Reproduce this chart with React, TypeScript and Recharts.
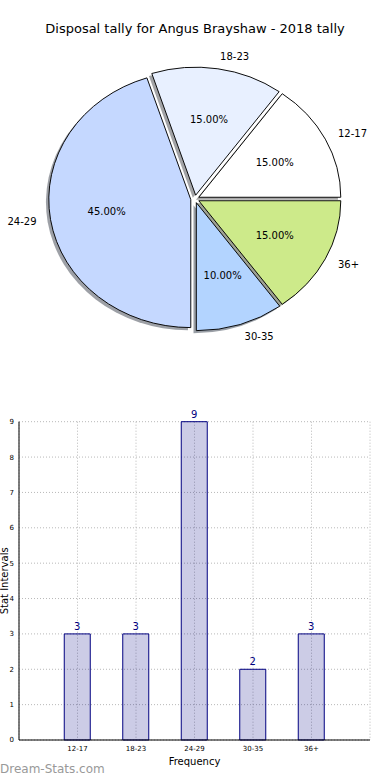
import React from 'react';
import { PieChart, Pie, Cell, BarChart, Bar, XAxis, YAxis, CartesianGrid, LabelList, Label } from 'recharts';

const categories = ['12-17', '18-23', '24-29', '30-35', '36+'];
const counts = [3, 3, 9, 2, 3];
const sliceColors = ['#ffffff', '#e8f0ff', '#c5d8ff', '#b3d4ff', '#cdea8a'];
const explode = [0.03, 0.03, 0.03, 0.03, 0.03];
const yTicks = [0, 1, 2, 3, 4, 5, 6, 7, 8, 9];
const xTicks = [1, 2, 3, 4, 5];

const CX = 195;
const CY = 199;
const R = 142;
const SY = 128 / 142;
const FONT = 'DejaVu Sans, sans-serif';

const pieData = categories.map((name, i) => ({ name, value: counts[i] }));
const barData = categories.map((name, i) => ({ pos: i + 1, name, value: counts[i] }));

const total = counts.reduce((a, b) => a + b, 0);
const midAngles = counts.map((v, i) => {
  const before = counts.slice(0, i).reduce((a, b) => a + b, 0);
  return (360 * (before + v / 2)) / total;
});

function shadowColor(hex: string) {
  const r = parseInt(hex.slice(1, 3), 16);
  const g = parseInt(hex.slice(3, 5), 16);
  const b = parseInt(hex.slice(5, 7), 16);
  return `rgb(${Math.round(r * 0.3)},${Math.round(g * 0.3)},${Math.round(b * 0.3)})`;
}

const RAD = Math.PI / 180;

const renderLabels = (p: any) => {
  const { midAngle, index, percent } = p;
  const e = explode[index];
  const c = Math.cos(midAngle * RAD);
  const s = Math.sin(midAngle * RAD);
  const lx = CX + (e + 1.1) * R * c;
  const ly = CY - (e + 1.1) * R * s;
  const px = CX + (e + 0.6) * R * c;
  const py = CY - (e + 0.6) * R * s;
  const tf = (x: number, y: number) => `translate(${x},${y}) scale(1,${1 / SY}) translate(${-x},${-y})`;
  return (
    <g key={`lbl-${index}`}>
      <text x={lx} y={ly} transform={tf(lx, ly)} textAnchor={c > 0 ? 'start' : 'end'} dominantBaseline="central" fontSize={10} fontFamily={FONT} fill="#000">
        {categories[index]}
      </text>
      <text x={px} y={py} transform={tf(px, py)} textAnchor="middle" dominantBaseline="central" fontSize={10} fontFamily={FONT} fill="#000">
        {(percent * 100).toFixed(2)}%
      </text>
    </g>
  );
};

export default function App() {
  return (
    <div style={{ position: 'absolute', left: 0, top: 0, width: 390, height: 780, background: '#fff', fontFamily: FONT }}>
      <div style={{ position: 'absolute', left: 0, top: 21, width: 390, textAlign: 'center', fontSize: 13, fontFamily: FONT, color: '#000' }}>
        Disposal tally for Angus Brayshaw - 2018 tally
      </div>
      <div style={{ position: 'absolute', left: 0, top: 0, width: 390, height: 390, transform: `scaleY(${SY})`, transformOrigin: `${CX}px ${CY}px` }}>
        <PieChart width={390} height={390} margin={{ top: 0, right: 0, bottom: 0, left: 0 }}>
          {categories.map((_, i) => (
            <Pie
              key={`sh-${i}`}
              data={pieData}
              dataKey="value"
              cx={CX + explode[i] * R * Math.cos(midAngles[i] * RAD) - 0.02 * R}
              cy={CY - explode[i] * R * Math.sin(midAngles[i] * RAD) + 0.02 * R}
              outerRadius={R}
              startAngle={0}
              endAngle={360}
              isAnimationActive={false}
              stroke="none"
            >
              {pieData.map((d, j) => (
                <Cell key={d.name} fill={j === i ? shadowColor(sliceColors[i]) : 'none'} fillOpacity={0.5} stroke="none" />
              ))}
            </Pie>
          ))}
          {categories.map((_, i) => (
            <Pie
              key={`sl-${i}`}
              data={pieData}
              dataKey="value"
              cx={CX + explode[i] * R * Math.cos(midAngles[i] * RAD)}
              cy={CY - explode[i] * R * Math.sin(midAngles[i] * RAD)}
              outerRadius={R}
              startAngle={0}
              endAngle={360}
              isAnimationActive={false}
            >
              {pieData.map((d, j) => (
                <Cell key={d.name} fill={j === i ? sliceColors[i] : 'none'} stroke={j === i ? '#000' : 'none'} strokeWidth={1} />
              ))}
            </Pie>
          ))}
          <Pie
            data={pieData}
            dataKey="value"
            cx={CX}
            cy={CY}
            outerRadius={R}
            startAngle={0}
            endAngle={360}
            isAnimationActive={false}
            fill="none"
            stroke="none"
            labelLine={false}
            label={renderLabels}
          >
            {pieData.map((d) => (
              <Cell key={d.name} fill="none" stroke="none" />
            ))}
          </Pie>
        </PieChart>
      </div>
      <div style={{ position: 'absolute', left: 0, top: 400 }}>
        <BarChart width={390} height={380} data={barData} margin={{ top: 21.7, right: 20, bottom: 0, left: 0 }}>
          <CartesianGrid stroke="#b8b8b8" strokeDasharray="1 2" />
          <XAxis
            dataKey="pos"
            type="number"
            domain={[0, 6]}
            ticks={xTicks}
            tickFormatter={(v: number) => categories[v - 1]}
            height={40}
            tickLine={false}
            tickSize={4}
            tick={{ fontSize: 7, fill: '#000', fontFamily: FONT }}
            axisLine={{ stroke: '#000' }}
            interval={0}
          >
            <Label value="Frequency" position="insideBottom" offset={15} fontSize={10} fill="#000" fontFamily={FONT} />
          </XAxis>
          <XAxis xAxisId="top" dataKey="pos" type="number" domain={[0, 6]} orientation="top" height={0} tick={false} tickLine={false} axisLine={{ stroke: '#000' }} />
          <YAxis
            type="number"
            domain={[0, 9]}
            ticks={yTicks}
            width={19}
            tickLine={false}
            tickSize={3}
            tick={{ fontSize: 7, fill: '#000', fontFamily: FONT }}
            axisLine={{ stroke: '#000' }}
            interval={0}
          >
            <Label value="Stat Intervals" angle={-90} position="insideLeft" offset={4} fontSize={10} fill="#000" fontFamily={FONT} style={{ textAnchor: 'middle' }} />
          </YAxis>
          <YAxis yAxisId="right" orientation="right" type="number" domain={[0, 9]} width={0} tick={false} tickLine={false} axisLine={{ stroke: '#000' }} />
          <Bar dataKey="value" barSize={26} fill="#000080" fillOpacity={0.2} stroke="#000080" strokeWidth={1} isAnimationActive={false}>
            <LabelList dataKey="value" position="top" offset={4} fill="#000080" fontSize={10} fontFamily={FONT} />
          </Bar>
        </BarChart>
      </div>
      <div style={{ position: 'absolute', left: 0, top: 762, fontSize: 12, fontWeight: 'normal', color: '#999', fontFamily: FONT }}>
        Dream-Stats.com
      </div>
    </div>
  );
}
